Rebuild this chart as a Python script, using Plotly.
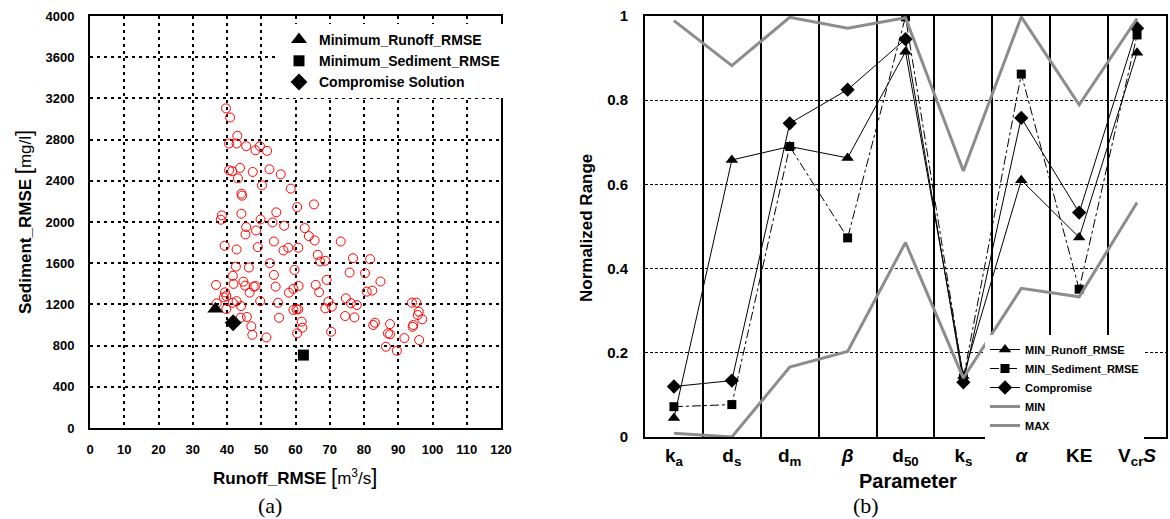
import plotly.graph_objects as go

# ---------------- Data: panel (a) ----------------
runoff_rmse = [
    39.7, 40.9, 43.0, 40.6, 42.8, 45.6, 48.3, 49.6, 51.7, 40.6, 41.5, 43.8, 43.2, 47.5, 52.4,
    55.7, 50.2, 58.6, 44.2, 44.4, 60.5, 65.4, 38.5, 38.2, 44.2, 49.8, 53.3, 54.4, 56.7, 45.6,
    45.4, 48.5, 62.7, 63.9, 65.6, 73.2, 39.3, 42.8, 49.0, 53.7, 56.5, 57.9, 60.8,
    42.6, 46.4, 52.5, 41.7, 41.9, 36.8, 44.8, 45.3, 47.8, 48.3, 46.6, 53.7, 54.2, 39.4, 39.8,
    39.1, 41.7, 42.8, 44.1, 39.8, 37.0, 49.7, 54.9, 44.0, 45.8, 47.1, 47.4, 51.5, 55.2,
    66.5, 67.2, 68.7, 76.8, 81.8, 59.7, 75.8, 80.3, 84.8, 69.1, 65.9, 66.9, 60.9, 58.1, 59.4,
    80.8, 82.4, 74.7, 76.2, 77.9, 69.6, 68.7, 70.6, 59.4, 60.3, 60.8, 61.8, 62.0, 60.5, 70.4,
    74.5, 77.2, 82.7, 83.2, 87.6, 87.0, 87.6, 86.4, 89.6, 91.8, 94.0, 95.3, 96.0, 95.7, 97.0,
    94.4, 94.2, 96.1,
]
sediment_rmse = [
    3103, 3015, 2837, 2762, 2762, 2736, 2697, 2736, 2691, 2502, 2493, 2525, 2424, 2486, 2512,
    2463, 2356, 2324, 2275, 2256, 2145, 2171, 2064, 2022, 2080, 2025, 1996, 2094, 1964, 1951,
    1879, 1918, 1941, 1863, 1821, 1811, 1769, 1733, 1756, 1811, 1724, 1750, 1750,
    1567, 1558, 1600, 1477, 1399, 1389, 1421, 1382, 1373, 1378, 1314, 1486, 1373, 1317, 1281,
    1268, 1216, 1232, 1184, 1155, 1210, 1232, 1216, 1071, 1078, 988, 905, 879, 1070,
    1681, 1616, 1623, 1649, 1639, 1535, 1509, 1503, 1422, 1438, 1389, 1318, 1379, 1314, 1351,
    1324, 1334, 1259, 1211, 1194, 1227, 1162, 1178, 1146, 1152, 1152, 1032, 974, 919, 935,
    1087, 1074, 1000, 1022, 1009, 919, 909, 789, 750, 873, 1217, 1217, 1129, 1097, 1055,
    1000, 983, 854,
]
min_runoff_pt = (36.6, 1155)
min_sediment_pt = (62.3, 708)
compromise_pt = (41.8, 1022)

# ---------------- Data: panel (b) ----------------
params = ["<b>k<sub>a</sub></b>", "<b>d<sub>s</sub></b>", "<b>d<sub>m</sub></b>", "<b><i>β</i></b>",
          "<b>d<sub>50</sub></b>", "<b>k<sub>s</sub></b>", "<b><i>α</i></b>", "<b>KE</b>",
          "<b>V<sub>cr</sub><i>S</i></b>"]
min_runoff_norm = [0.045, 0.658, 0.690, 0.663, 0.915, 0.145, 0.610, 0.474, 0.913]
min_sediment_norm = [0.072, 0.077, 0.690, 0.473, 0.998, 0.140, 0.862, 0.351, 0.955]
compromise_norm = [0.120, 0.134, 0.745, 0.825, 0.945, 0.130, 0.758, 0.533, 0.971]
min_norm = [0.009, 0.0, 0.166, 0.203, 0.462, 0.140, 0.353, 0.333, 0.557]
max_norm = [0.989, 0.882, 0.997, 0.971, 0.996, 0.632, 0.998, 0.789, 0.994]

W, H = 1170, 519
def px(x): return x / W
def py(y): return 1 - y / H

FONT = "Liberation Sans, Arial, sans-serif"
NARROW = "Liberation Sans Narrow, Arial Narrow, Liberation Sans, Arial, sans-serif"
SERIF = "Liberation Serif, DejaVu Serif, serif"

fig = go.Figure()

# panel (a)
fig.add_trace(go.Scatter(
    x=runoff_rmse, y=sediment_rmse, mode="markers", showlegend=False,
    marker=dict(symbol="circle-open", size=9, color="red", line=dict(width=1, color="red")),
    xaxis="x", yaxis="y"))
fig.add_trace(go.Scatter(
    x=[min_runoff_pt[0]], y=[min_runoff_pt[1]], mode="markers", name="<b>Minimum_Runoff_RMSE</b>",
    marker=dict(symbol="triangle-up", size=14, color="black"), xaxis="x", yaxis="y", legend="legend"))
fig.add_trace(go.Scatter(
    x=[min_sediment_pt[0]], y=[min_sediment_pt[1]], mode="markers", name="<b>Minimum_Sediment_RMSE</b>",
    marker=dict(symbol="square", size=11, color="black"), xaxis="x", yaxis="y", legend="legend"))
fig.add_trace(go.Scatter(
    x=[compromise_pt[0]], y=[compromise_pt[1]], mode="markers", name="<b>Compromise Solution</b>",
    marker=dict(symbol="diamond", size=13, color="black"), xaxis="x", yaxis="y", legend="legend"))

# panel (b)
idx = list(range(len(params)))
fig.add_trace(go.Scatter(
    x=idx, y=min_runoff_norm, mode="lines+markers", name="<b>MIN_Runoff_RMSE</b>",
    line=dict(color="black", width=1), marker=dict(symbol="triangle-up", size=11, color="black"),
    xaxis="x2", yaxis="y2", legend="legend2"))
fig.add_trace(go.Scatter(
    x=idx, y=min_sediment_norm, mode="lines+markers", name="<b>MIN_Sediment_RMSE</b>",
    line=dict(color="black", width=1, dash="dashdot"), marker=dict(symbol="square", size=9, color="black"),
    xaxis="x2", yaxis="y2", legend="legend2"))
fig.add_trace(go.Scatter(
    x=idx, y=compromise_norm, mode="lines+markers", name="<b>Compromise</b>",
    line=dict(color="black", width=1), marker=dict(symbol="diamond", size=11, color="black"),
    xaxis="x2", yaxis="y2", legend="legend2"))
fig.add_trace(go.Scatter(
    x=idx, y=min_norm, mode="lines", name="<b>MIN</b>",
    line=dict(color="#8c8c8c", width=3), xaxis="x2", yaxis="y2", legend="legend2"))
fig.add_trace(go.Scatter(
    x=idx, y=max_norm, mode="lines", name="<b>MAX</b>",
    line=dict(color="#8c8c8c", width=3), xaxis="x2", yaxis="y2", legend="legend2"))

def ann(text, x, y, size, angle=0, family=FONT):
    return dict(text=text, x=px(x), y=py(y), xref="paper", yref="paper", textangle=angle,
                showarrow=False, xanchor="center", yanchor="middle",
                font=dict(size=size, family=family))

BR = "<span style='font-size:22px'>%s</span>"

fig.update_layout(
    width=W, height=H, margin=dict(l=0, r=0, t=0, b=0, autoexpand=False),
    paper_bgcolor="white", plot_bgcolor="white",
    font=dict(family=FONT, color="black"),
    xaxis=dict(domain=[px(90), px(501)], range=[0, 120], dtick=10, showgrid=True,
               gridcolor="black", griddash="3px,4px", gridwidth=1.5, zeroline=False,
               showline=True, linecolor="black", linewidth=2, mirror=True, ticks="",
               tickfont=dict(size=13, weight="bold"), ticklabelstandoff=8, anchor="y",
               automargin=False),
    yaxis=dict(domain=[py(428), py(16)], range=[0, 4000], dtick=400, showgrid=True,
               gridcolor="black", griddash="3px,4px", gridwidth=1.5, zeroline=False,
               showline=True, linecolor="black", linewidth=2, mirror=True, ticks="",
               tickfont=dict(size=13, weight="bold"), ticklabelstandoff=11, anchor="x",
               automargin=False),
    xaxis2=dict(domain=[px(645), px(1166)], range=[-0.5, len(params) - 0.5],
                tickvals=idx, ticktext=params, showgrid=False, zeroline=False,
                minor=dict(tick0=0.5, dtick=1, showgrid=True, gridcolor="black", gridwidth=1.5),
                showline=True, linecolor="black", linewidth=2, mirror=True, ticks="",
                tickfont=dict(size=19, color="black"), ticklabelstandoff=0, anchor="y2",
                automargin=False),
    yaxis2=dict(domain=[py(437), py(16)], range=[0, 1], dtick=0.2, showgrid=True,
                gridcolor="black", griddash="3px,2px", gridwidth=0.8, zeroline=False,
                showline=True, linecolor="black", linewidth=2, mirror=True, ticks="",
                tickfont=dict(size=15, weight="bold"), ticklabelstandoff=12, anchor="x2",
                automargin=False),
    legend=dict(x=px(279), y=py(24), xanchor="left", yanchor="top", bgcolor="white",
                font=dict(size=14, family=FONT), tracegroupgap=0, itemsizing="trace"),
    legend2=dict(x=px(985), y=py(335), xanchor="left", yanchor="top", bgcolor="white",
                 font=dict(size=11, family=NARROW), tracegroupgap=0, itemwidth=30),
    annotations=[
        ann("<b>Sediment_RMSE</b> " + BR % "[" + "mg/l" + BR % "]", 23, 222, 17, -90),
        ann("<b>Runoff_RMSE</b> " + BR % "[" + "m<sup>3</sup>/s" + BR % "]", 295, 476, 17),
        ann("(a)", 270, 505, 22, family=SERIF),
        ann("<b>Normalized Range</b>", 586, 228, 17, -90),
        ann("<b>Parameter</b>", 908, 481, 20),
        ann("(b)", 866, 505, 22, family=SERIF),
    ],
)

fig.write_html("out.html", post_script="document.body.style.margin='0px';",
               config={"displayModeBar": False})
